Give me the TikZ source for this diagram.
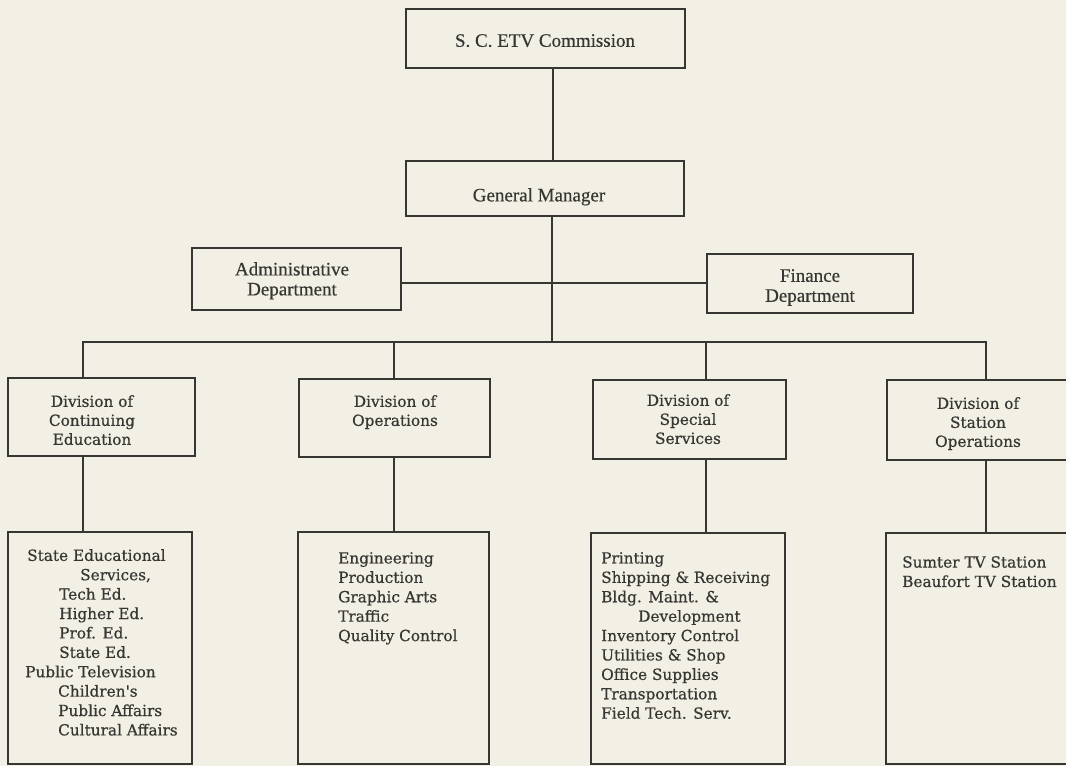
\documentclass[tikz,border=0pt]{standalone}
\usepackage{fontspec}
\setmainfont{Liberation Serif}[FakeBold=0.5]
\newfontfamily\divfont{DejaVu Serif}[FakeBold=0.6]
\usetikzlibrary{calc}
\definecolor{paper}{RGB}{242,240,228}
\definecolor{ink}{RGB}{55,54,50}
\begin{document}
\begin{tikzpicture}[x=1pt,y=-1pt,
  box/.style={draw=ink, line width=2.7pt, rectangle, anchor=north west, inner sep=0pt, outer sep=0pt},
  conn/.style={draw=ink, line width=2.7pt, line join=miter},
  toptext/.style={text=ink, font=\fontsize{19}{20}\selectfont, align=center, inner sep=0pt, anchor=north},
  divtext/.style={text=ink, font=\divfont\fontsize{15.3}{19}\selectfont, align=center, inner sep=0pt, anchor=north},
  listtext/.style={text=ink, font=\divfont\fontsize{15.3}{19.4}\selectfont, align=left, inner sep=0pt, anchor=north west}]

\useasboundingbox (0,0) rectangle (1066,766);
\fill[paper] (0,0) rectangle (1066,766);
\clip (0,0) rectangle (1066,766);

% boxes
\node[box, minimum width=279pt, minimum height=59pt] (comm) at (406,9) {};
\node[box, minimum width=278pt, minimum height=55pt] (gm) at (406,161) {};
\node[box, minimum width=209pt, minimum height=62pt] (admin) at (192,248) {};
\node[box, minimum width=206pt, minimum height=59pt] (fin) at (707,254) {};
\node[box, minimum width=187pt, minimum height=78pt] (d1) at (8,378) {};
\node[box, minimum width=191pt, minimum height=78pt] (d2) at (299,379) {};
\node[box, minimum width=193pt, minimum height=79pt] (d3) at (593,380) {};
\node[box, minimum width=200pt, minimum height=80pt] (d4) at (887,380) {};
\node[box, minimum width=184pt, minimum height=232pt] (l1) at (8,532) {};
\node[box, minimum width=191pt, minimum height=232pt] (l2) at (298,532) {};
\node[box, minimum width=194pt, minimum height=231pt] (l3) at (591,533) {};
\node[box, minimum width=200pt, minimum height=231pt] (l4) at (886,533) {};

% texts
\node[toptext] (tcomm) at (545,34) {S. C. ETV Commission};
\node[toptext] (tgm) at (539,188) {General Manager};
\node[toptext] (tadmin) at (292,262) {Administrative\\Department};
\node[toptext] (tfin) at (810,269) {Finance\\Department};

\node[divtext] (td1) at (92,395) {Division of\\Continuing\\Education};
\node[divtext] (td2) at (395,395) {Division of\\Operations};
\node[divtext] (td3) at (688,394) {Division of\\Special\\Services};
\node[divtext] (td4) at (978,397) {Division of\\Station\\Operations};

\node[listtext] (tl1) at (27,549) {State Educational\\
\hspace*{53pt}Services,\\
\hspace*{32pt}Tech Ed.\\
\hspace*{32pt}Higher Ed.\\
\hspace*{32pt}Prof. Ed.\\
\hspace*{32pt}State Ed.\\
\hspace*{-2pt}Public Television\\
\hspace*{31pt}Children's\\
\hspace*{31pt}Public Affairs\\
\hspace*{31pt}Cultural Affairs};
\node[listtext] (tl2) at (338,552) {Engineering\\Production\\Graphic Arts\\Traffic\\Quality Control};
\node[listtext] (tl3) at (601,552) {Printing\\Shipping \& Receiving\\Bldg. Maint. \&\\
\hspace*{37pt}Development\\Inventory Control\\Utilities \& Shop\\Office Supplies\\Transportation\\Field Tech. Serv.};
\node[listtext] (tl4) at (902,556) {Sumter TV Station\\Beaufort TV Station};

% connectors
\coordinate (cx) at (553,0);
\coordinate (j) at (552,283);
\coordinate (barL) at (83,342);
\coordinate (barR) at (986,342);
\coordinate (k2) at (394,342);
\coordinate (k3) at (706,342);
\draw[conn] (comm.south -| cx) -- (gm.north -| cx);
\draw[conn] (gm.south -| j) -- (j |- barL);
\draw[conn] (admin.east |- j) -- (fin.west |- j);
\draw[conn] (d1.north -| barL) -- (barL) -- (barR) -- (d4.north -| barR);
\draw[conn] (k2) -- (d2.north -| k2);
\draw[conn] (k3) -- (d3.north -| k3);
\draw[conn] (d1.south -| barL) -- (l1.north -| barL);
\draw[conn] (d2.south -| k2) -- (l2.north -| k2);
\draw[conn] (d3.south -| k3) -- (l3.north -| k3);
\draw[conn] (d4.south -| barR) -- (l4.north -| barR);
\end{tikzpicture}
\end{document}
